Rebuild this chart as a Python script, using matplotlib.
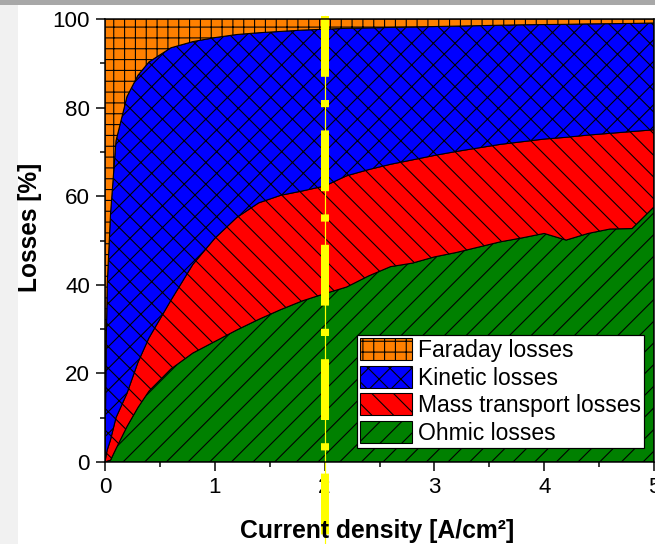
# -*- coding: utf-8 -*-

import matplotlib.pyplot as plt
from matplotlib.patches import Rectangle

# Current density [A/cm2] and share of each loss [%] at that point
current_density = [0, 0.01, 0.02, 0.05, 0.1, 0.2, 0.3, 0.4, 0.6, 0.8, 1.0, 1.2, 1.4, 1.6, 1.8, 2.0,
                   2.2, 2.4, 2.6, 2.8, 3.0, 3.2, 3.4, 3.6, 3.8, 4.0, 4.2, 4.4, 4.6, 4.8, 5.0]
ohmic_losses = [0, 0, 0.2, 0.4, 3.0, 8.0, 12.3, 16.0, 21.0, 24.6, 27.2, 29.8, 32.2, 34.4, 36.4, 38.0,
                39.5, 42.0, 44.1, 44.9, 46.3, 47.3, 48.5, 49.7, 50.6, 51.6, 50.1, 51.6, 52.6, 52.7, 57.6]
mass_transport_losses = [0, 1.5, 2.5, 4.6, 7.0, 7.5, 10.2, 12.0, 15.5, 20.0, 23.3, 25.4, 26.3, 25.8, 24.8, 24.3,
                         25.1, 24.0, 23.1, 23.3, 22.9, 22.8, 22.4, 22.0, 21.7, 21.3, 23.2, 22.2, 21.6, 21.9, 17.4]
kinetic_losses = [0, 23.5, 37.3, 51.0, 62.5, 67.0, 64.8, 62.3, 57.0, 50.3, 45.3, 41.3, 38.4, 37.0, 36.3, 35.4,
                  33.3, 32.0, 30.9, 30.0, 29.1, 28.3, 27.6, 26.9, 26.4, 25.85, 25.5, 25.1, 24.75, 24.4, 24.1]
faraday_losses = [100, 75, 60, 44, 27.5, 17.5, 12.7, 9.7, 6.5, 5.1, 4.2, 3.5, 3.1, 2.8, 2.5, 2.3,
                  2.1, 2.0, 1.9, 1.8, 1.7, 1.6, 1.5, 1.4, 1.3, 1.25, 1.2, 1.1, 1.05, 1.0, 0.9]

labels = ["Ohmic losses", "Mass transport losses", "Kinetic losses", "Faraday losses"]
colors = ["#008000", "#ff0000", "#0000ff", "#ff8000"]
hatches = ["//", "\\\\", "xx", "++"]

marker_current = 2.0

DPI = 130
PX = 72.0 / DPI  # one pixel in points

plt.rcParams['font.family'] = ['Liberation Sans', 'DejaVu Sans']
plt.rcParams['hatch.linewidth'] = 0.6

fig = plt.figure(figsize=(655 / DPI, 544 / DPI), dpi=DPI)

# window frame strips
fig.patches.append(Rectangle((0, 1 - 5 / 544), 1, 5 / 544, transform=fig.transFigure,
                             facecolor='#a8a8a8', edgecolor='none'))
fig.patches.append(Rectangle((0, 0), 18 / 655, 1 - 5 / 544, transform=fig.transFigure,
                             facecolor='#f1f1f1', edgecolor='none'))

ax = fig.add_axes([105 / 655, 82 / 544, 549 / 655, 443 / 544])

polys = ax.stackplot(current_density, ohmic_losses, mass_transport_losses, kinetic_losses,
                     faraday_losses, labels=labels, colors=colors, hatch=hatches,
                     edgecolor='black', linewidth=0.6)

# marker line at the chosen current density
ax.plot([marker_current, marker_current], [100.7, -19], color='#ffff00', lw=1.2 * PX,
        clip_on=False, zorder=5)
ax.plot([marker_current, marker_current], [100.7, -19], color='#ffff00', lw=8 * PX,
        dashes=(7.6, 2.9, 0.9, 2.9), solid_capstyle='butt', dash_capstyle='butt',
        clip_on=False, zorder=5)

ax.set_xlim(0, 5)
ax.set_ylim(0, 100)
ax.set_xticks([0, 1, 2, 3, 4, 5])
ax.set_xticks([0.5, 1.5, 2.5, 3.5, 4.5], minor=True)
ax.set_yticks([0, 20, 40, 60, 80, 100])
ax.set_yticks([10, 30, 50, 70, 90], minor=True)
ax.tick_params(which='major', direction='out', length=9 * PX, width=1.5 * PX,
               labelsize=12.4, pad=6 * PX)
ax.tick_params(which='minor', direction='out', length=5 * PX, width=1.5 * PX)
for sp in ax.spines.values():
    sp.set_linewidth(1.5 * PX)
    sp.set_zorder(6)

fig.text(30 / 655, 1 - 227 / 544, "Losses [%]", rotation=90, ha='center', va='center',
         fontsize=13.6, fontweight='bold')
fig.text(377.5 / 655, 1 - 538 / 544, "Current density [A/cm²]", ha='center', va='baseline',
         fontsize=13.7, fontweight='bold')

handles = polys[::-1]
leg = ax.legend(handles, labels[::-1], loc='upper left',
                bbox_to_anchor=((357 - 105) / 549, (462 - 335) / 443),
                borderaxespad=0, borderpad=0.15, fontsize=12.7, handlelength=2.25,
                handleheight=1.1, handletextpad=0.25, labelspacing=0.16,
                fancybox=False, framealpha=1, edgecolor='black')
leg.get_frame().set_linewidth(1.2 * PX)
leg.set_zorder(7)

fig.savefig("out.png", dpi=DPI)
